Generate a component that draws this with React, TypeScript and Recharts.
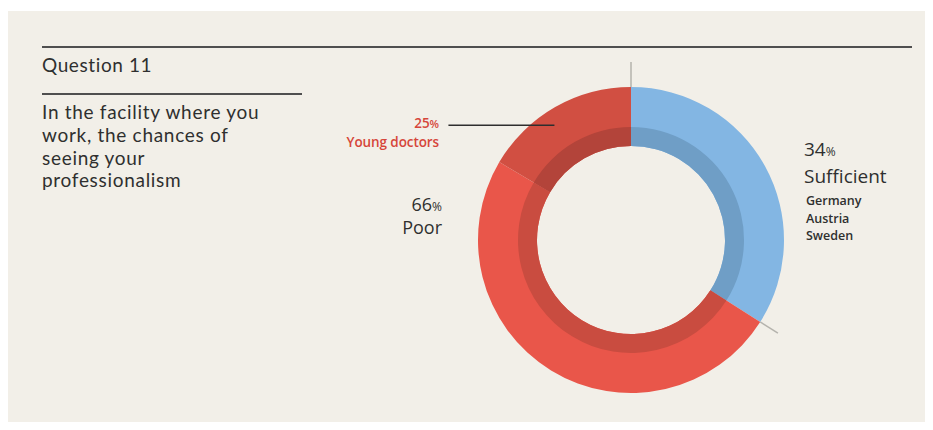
import React from 'react';
import { PieChart, Pie, Cell } from 'recharts';

// Question 11 – answer shares in percent
const categories = ['Sufficient', 'Poor'];
const shares = [34, 66];
// part of the "Poor" answers that came from young doctors (percent of Poor)
const youngDoctorsShareOfPoor = 25;
const sufficientCountries = ['Germany', 'Austria', 'Sweden'];

const questionTitle = 'Question 11';
const questionLines = [
  'In the facility where you',
  'work, the chances of',
  'seeing your',
  'professionalism',
];

const youngPart = (shares[1] * youngDoctorsShareOfPoor) / 100;

// clockwise from 12 o'clock: sufficient, rest of poor, young doctors
const slices = [
  { name: categories[0], value: shares[0] },
  { name: categories[1], value: shares[1] - youngPart },
  { name: 'Young doctors', value: youngPart },
];

const OUTER_COLORS = ['#83b6e3', '#e9564a', '#d14f42'];
const BAND_COLORS = ['#6f9ec6', '#c94c40', '#b3443a'];
const TEXT = '#2f2f2f';
const RED_TEXT = '#d6463a';

const CX = 631;
const CY = 240;
const RADIAN = Math.PI / 180;

const polar = (cx: number, cy: number, r: number, angle: number) => ({
  x: cx + r * Math.cos(-angle * RADIAN),
  y: cy + r * Math.sin(-angle * RADIAN),
});

// thin gray ticks at the slice boundaries + leader line for young doctors
const renderMarks = (props: any) => {
  const { cx, cy, outerRadius, startAngle, midAngle, index } = props;
  if (index === 0 || index === 1) {
    const len = index === 0 ? 25 : 21;
    const a = polar(cx, cy, outerRadius, startAngle);
    const b = polar(cx, cy, outerRadius + len, startAngle);
    return (
      <g>
        <line x1={a.x} y1={a.y} x2={b.x} y2={b.y} stroke="#b5b3ad" strokeWidth={1.5} />
      </g>
    );
  }
  const p = polar(cx, cy, outerRadius - 15, midAngle + 4);
  return (
    <g>
      <line x1={p.x - 106} y1={p.y} x2={p.x} y2={p.y} stroke="#2e2e2e" strokeWidth={1.5} />
    </g>
  );
};

export default function App() {
  return (
    <div
      style={{
        position: 'relative',
        width: 933,
        height: 430,
        margin: -8,
        fontFamily: "'Open Sans', sans-serif",
        color: TEXT,
        overflow: 'hidden',
      }}
    >
      <div style={{ position: 'absolute', left: 8, top: 11, right: 0, bottom: 0, background: '#f2efe8' }} />
      <div style={{ position: 'absolute', left: 42, top: 46, width: 870, height: 2, background: '#4f4f4f' }} />
      <div style={{ position: 'absolute', left: 42, top: 93, width: 260, height: 2, background: '#4f4f4f' }} />

      <div
        style={{
          position: 'absolute',
          left: 42,
          top: 53,
          fontFamily: 'Lato, sans-serif',
          fontSize: 19,
          lineHeight: '23px',
          letterSpacing: 0.6,
          whiteSpace: 'nowrap',
        }}
      >
        {questionTitle}
      </div>
      <div
        style={{
          position: 'absolute',
          left: 42,
          top: 101,
          fontFamily: 'Lato, sans-serif',
          fontSize: 19,
          lineHeight: '22.8px',
          letterSpacing: 0.7,
          whiteSpace: 'nowrap',
        }}
      >
        {questionLines.map((l) => (
          <div key={l}>{l}</div>
        ))}
      </div>

      <div style={{ position: 'absolute', top: 0, left: 0 }}>
        <PieChart width={933} height={430} margin={{ top: 0, right: 0, bottom: 0, left: 0 }}>
          <Pie
            data={slices}
            dataKey="value"
            cx={CX}
            cy={CY}
            startAngle={90}
            endAngle={-270}
            innerRadius={94}
            outerRadius={153}
            stroke="none"
            label={renderMarks}
            labelLine={false}
            isAnimationActive={false}
          >
            {slices.map((s, i) => (
              <Cell key={s.name} fill={OUTER_COLORS[i]} />
            ))}
          </Pie>
          <Pie
            data={slices}
            dataKey="value"
            cx={CX}
            cy={CY}
            startAngle={90}
            endAngle={-270}
            innerRadius={94}
            outerRadius={113}
            stroke="none"
            isAnimationActive={false}
          >
            {slices.map((s, i) => (
              <Cell key={s.name} fill={BAND_COLORS[i]} />
            ))}
          </Pie>
        </PieChart>
      </div>

      {/* young doctors label */}
      <div
        style={{
          position: 'absolute',
          right: 933 - 439,
          top: 114,
          textAlign: 'right',
          color: RED_TEXT,
          fontSize: 13.5,
          fontWeight: 600,
          lineHeight: '18px',
          letterSpacing: -0.1,
          whiteSpace: 'nowrap',
        }}
      >
        <div>
          {youngDoctorsShareOfPoor}
          <span style={{ fontSize: 11 }}>%</span>
        </div>
        <div>Young doctors</div>
      </div>

      {/* poor label */}
      <div
        style={{
          position: 'absolute',
          right: 933 - 442,
          top: 194,
          textAlign: 'right',
          fontSize: 18,
          lineHeight: '21px',
          whiteSpace: 'nowrap',
        }}
      >
        <div>
          {shares[1]}
          <span style={{ fontSize: 12 }}>%</span>
        </div>
        <div>{categories[1]}</div>
      </div>

      {/* sufficient label */}
      <div
        style={{
          position: 'absolute',
          left: 804,
          top: 137,
          fontSize: 19,
          lineHeight: '25px',
          whiteSpace: 'nowrap',
        }}
      >
        <div>
          {shares[0]}
          <span style={{ fontSize: 12 }}>%</span>
        </div>
        <div>{categories[0]}</div>
      </div>
      <div
        style={{
          position: 'absolute',
          left: 806,
          top: 192,
          fontSize: 12.5,
          fontWeight: 600,
          lineHeight: '17.5px',
          letterSpacing: 0,
          whiteSpace: 'nowrap',
        }}
      >
        {sufficientCountries.map((c) => (
          <div key={c}>{c}</div>
        ))}
      </div>
    </div>
  );
}
